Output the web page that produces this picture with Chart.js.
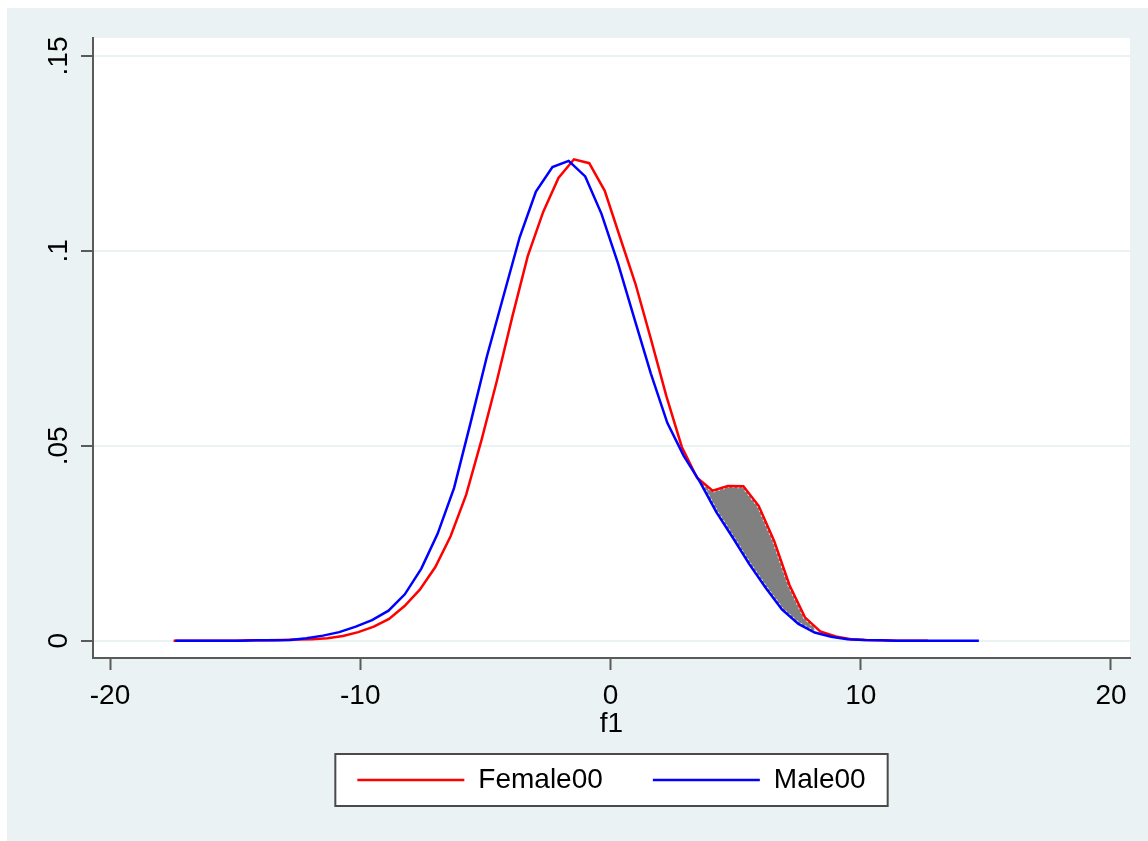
<!DOCTYPE html>
<html>
<head>
<meta charset="utf-8">
<title>f1 density by group</title>
<script src="https://cdn.jsdelivr.net/npm/chart.js@4.4.1/dist/chart.umd.min.js"></script>
<style>
  html, body { margin: 0; padding: 0; background: #ffffff; }
  #wrap { position: absolute; left: 7px; top: 8px; width: 1141px; height: 833px; }
  canvas { display: block; }
</style>
</head>
<body>
<div id="wrap"><canvas id="chart" width="1141" height="833"></canvas></div>
<script>
// Kernel density estimates of f1, evaluated on each group's own grid
const femaleX = [-17.46, -16.84, -16.23, -15.61, -15.00, -14.38, -13.77, -13.15, -12.54, -11.92,
                 -11.31, -10.69, -10.08, -9.46, -8.85, -8.23, -7.62, -7.00, -6.39, -5.77,
                 -5.15, -4.54, -3.92, -3.31, -2.69, -2.08, -1.46, -0.85, -0.23, 0.38,
                 1.00, 1.61, 2.23, 2.85, 3.46, 4.08, 4.69, 5.31, 5.92, 6.54,
                 7.15, 7.77, 8.38, 9.00, 9.61, 10.23, 10.84, 11.46, 12.07, 12.69];
const femaleY = [0.0000, 0.0000, 0.0000, 0.0000, 0.0000, 0.0001, 0.0001, 0.0002, 0.0003, 0.0004,
                 0.0006, 0.0012, 0.0022, 0.0036, 0.0056, 0.0089, 0.0131, 0.0189, 0.0268, 0.0374,
                 0.0516, 0.0667, 0.0832, 0.0986, 0.1100, 0.1187, 0.1235, 0.1225, 0.1154, 0.1035,
                 0.0915, 0.0775, 0.0628, 0.0497, 0.0418, 0.0385, 0.0397, 0.0396, 0.0346, 0.0256,
                 0.0143, 0.0060, 0.0024, 0.0011, 0.0004, 0.0002, 0.0001, 0.0000, 0.0000, 0.0000];

const maleX = [-17.39, -16.73, -16.08, -15.42, -14.77, -14.11, -13.46, -12.80, -12.15, -11.49,
               -10.84, -10.18, -9.53, -8.87, -8.22, -7.56, -6.91, -6.25, -5.60, -4.94,
               -4.29, -3.63, -2.98, -2.32, -1.67, -1.01, -0.36, 0.30, 0.96, 1.61,
               2.27, 2.92, 3.58, 4.23, 4.89, 5.54, 6.20, 6.85, 7.51, 8.16,
               8.82, 9.47, 10.13, 10.78, 11.44, 12.09, 12.75, 13.40, 14.06, 14.72];
const maleY = [0.0000, 0.0000, 0.0000, 0.0000, 0.0000, 0.0001, 0.0001, 0.0002, 0.0006, 0.0013,
               0.0022, 0.0036, 0.0053, 0.0077, 0.0119, 0.0185, 0.0274, 0.0392, 0.0557, 0.0729,
               0.0881, 0.1035, 0.1152, 0.1215, 0.1231, 0.1191, 0.1095, 0.0968, 0.0825, 0.0686,
               0.0559, 0.0475, 0.0407, 0.0330, 0.0264, 0.0197, 0.0136, 0.0080, 0.0043, 0.0021,
               0.0010, 0.0004, 0.0002, 0.0001, 0.0000, 0.0000, 0.0000, 0.0000, 0.0000, 0.0000];

const seriesNames = ['Female00', 'Male00'];
const xTicks = [-20, -10, 0, 10, 20];
const yTicks = [0, 0.05, 0.1, 0.15];
const yTickLabels = ['0', '.05', '.1', '.15'];
const xTitle = 'f1';

// f1 range where the female excess is shaded
const shadeFrom = 3.5;
const shadeTo = 8.2;

const FONT = '"Liberation Sans", Arimo, Arial, sans-serif';
const INK = '#000000';
const AXIS = '#5a5a5a';
const REGION = '#eaf2f3';
const RED = '#ff0000';
const BLUE = '#0000ff';

Chart.defaults.font.family = FONT;

const toPoints = (xs, ys) => xs.map((x, i) => ({ x: x, y: ys[i] }));
const femalePts = toPoints(femaleX, femaleY);
const malePts = toPoints(maleX, maleY);
// lower edge of the band follows the male curve, upper edge the female curve
const bandLower = malePts.filter(p => p.x >= shadeFrom && p.x <= shadeTo);
const bandUpper = femalePts.filter(p => p.x >= shadeFrom - 0.7 && p.x <= shadeTo + 0.7);

// graph region tint, white plot region, framed legend
const regionPlugin = {
  id: 'regionPlugin',
  beforeDraw(chart) {
    const { ctx, chartArea: a } = chart;
    ctx.save();
    ctx.fillStyle = REGION;
    ctx.fillRect(0, 0, chart.width, chart.height);
    ctx.fillStyle = '#ffffff';
    ctx.fillRect(a.left, a.top, a.right - a.left, a.bottom - a.top);

    const boxes = chart.legend && chart.legend.legendHitBoxes;
    if (boxes && boxes.length) {
      const l = Math.min(...boxes.map(b => b.left));
      const r = Math.max(...boxes.map(b => b.left + b.width));
      const t = Math.min(...boxes.map(b => b.top));
      const h = Math.max(...boxes.map(b => b.height));
      const x0 = l - 22, x1 = r + 22, y0 = t - 12, y1 = t + h + 12;
      ctx.fillStyle = '#ffffff';
      ctx.fillRect(x0, y0, x1 - x0, y1 - y0);
      ctx.strokeStyle = '#4a4a4a';
      ctx.lineWidth = 2;
      ctx.strokeRect(x0, y0, x1 - x0, y1 - y0);
    }
    ctx.restore();
  }
};

const lineStyle = { pointRadius: 0, pointHoverRadius: 0, tension: 0, borderWidth: 2.5, fill: false };

new Chart(document.getElementById('chart'), {
  type: 'line',
  data: {
    datasets: [
      Object.assign({ label: seriesNames[0], data: femalePts, borderColor: RED, backgroundColor: RED, order: 2 }, lineStyle),
      Object.assign({ label: seriesNames[1], data: malePts, borderColor: BLUE, backgroundColor: BLUE, order: 1 }, lineStyle),
      {
        label: 'band-lower', data: bandLower, order: 4,
        pointRadius: 0, tension: 0,
        borderColor: 'rgba(255,255,255,0.9)', borderWidth: 4, borderDash: [2, 3],
        backgroundColor: '#808080', fill: 3
      },
      {
        label: 'band-upper', data: bandUpper, order: 3,
        pointRadius: 0, tension: 0,
        borderColor: 'rgba(255,255,255,0.9)', borderWidth: 4, borderDash: [2, 3],
        fill: false
      }
    ]
  },
  options: {
    responsive: false,
    animation: false,
    events: [],
    layout: { padding: { left: 0, right: 18, top: 30, bottom: 37 } },
    scales: {
      x: {
        type: 'linear',
        min: -20.68,
        max: 20.76,
        afterBuildTicks: s => { s.ticks = xTicks.map(v => ({ value: v })); },
        afterFit: s => { s.height = 58; },
        ticks: {
          color: INK, font: { size: 28 }, padding: 9,
          maxRotation: 0, minRotation: 0, autoSkip: false,
          callback: v => String(v)
        },
        grid: { drawOnChartArea: false, drawTicks: true, tickLength: 12, tickWidth: 2, tickColor: AXIS },
        border: { display: true, color: AXIS, width: 2 },
        title: {
          display: true, text: xTitle, color: INK,
          font: { size: 28, lineHeight: 1 },
          padding: { top: 0, bottom: -22 }
        }
      },
      y: {
        type: 'linear',
        min: -0.00444,
        max: 0.15462,
        afterBuildTicks: s => { s.ticks = yTicks.map(v => ({ value: v })); },
        afterFit: s => { s.width = 86; },
        ticks: {
          color: INK, font: { size: 28 }, padding: 2,
          minRotation: 90, maxRotation: 90, crossAlign: 'center', autoSkip: false,
          callback: v => yTickLabels[yTicks.indexOf(v)]
        },
        grid: { color: REGION, lineWidth: 2, drawTicks: true, tickLength: 12, tickWidth: 2, tickColor: AXIS },
        border: { display: true, color: AXIS, width: 2 }
      }
    },
    plugins: {
      tooltip: { enabled: false },
      legend: {
        position: 'bottom',
        fullSize: false,
        align: 'center',
        labels: {
          color: INK,
          font: { size: 28 },
          boxWidth: 107,
          boxHeight: 2.5,
          padding: 50,
          generateLabels: chart => seriesNames.map((name, i) => {
            const ds = chart.data.datasets[i];
            return {
              text: name, datasetIndex: i,
              fillStyle: ds.borderColor, strokeStyle: ds.borderColor,
              lineWidth: 0, hidden: false, fontColor: INK
            };
          })
        }
      }
    }
  },
  plugins: [regionPlugin]
});
</script>
</body>
</html>
